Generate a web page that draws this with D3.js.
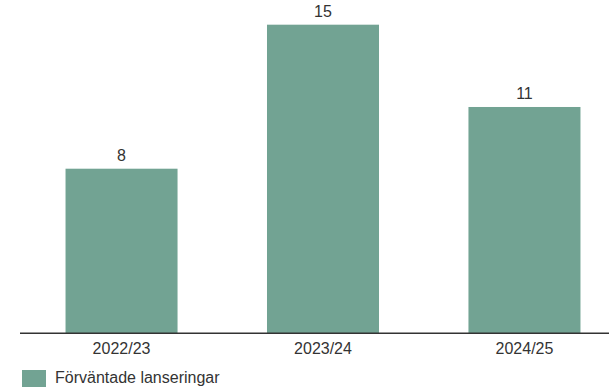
<!DOCTYPE html>
<html>
<head>
<meta charset="utf-8">
<script src="https://cdn.jsdelivr.net/npm/d3@7"></script>
<style>
  html, body { margin: 0; padding: 0; background: #fff; }
  svg { display: block; }
  text { font-family: "Liberation Sans", Arial, sans-serif; fill: #333; }
</style>
</head>
<body>
<svg id="chart" width="609" height="387"></svg>
<script>
const categories = ["2022/23", "2023/24", "2024/25"];
const values = [8, 15, 11];
const seriesName = "Förväntade lanseringar";
const barColor = "#72a393";

const W = 609, H = 387;
const svg = d3.select("#chart");

const baseY = 333.3;
const x = d3.scaleBand()
  .domain(categories)
  .range([20, 626])
  .paddingInner(0.444)
  .paddingOuter(0.226);

const y = d3.scaleLinear()
  .domain([0, 16.2])
  .range([baseY, 0]);

const data = categories.map((c, i) => ({ c, v: values[i] }));

svg.selectAll("rect.bar")
  .data(data)
  .enter().append("rect")
  .attr("class", "bar")
  .attr("x", d => x(d.c))
  .attr("width", x.bandwidth())
  .attr("y", d => y(d.v))
  .attr("height", d => baseY - y(d.v))
  .attr("fill", barColor);

svg.selectAll("text.val")
  .data(data)
  .enter().append("text")
  .attr("class", "val")
  .attr("x", d => x(d.c) + x.bandwidth() / 2)
  .attr("y", d => y(d.v) - 7.5)
  .attr("text-anchor", "middle")
  .style("font-size", "16px")
  .text(d => d.v);

// axis
const axis = d3.axisBottom(x).tickSize(0).tickPadding(0);
const g = svg.append("g").attr("transform", `translate(0,${baseY})`).call(axis);
g.select(".domain").remove();
g.selectAll("text")
  .attr("y", 21)
  .attr("dy", null)
  .style("font-size", "16px")
  .style("font-family", "'Liberation Sans', Arial, sans-serif")
  .attr("fill", "#333");

svg.append("line")
  .attr("x1", 20).attr("x2", 609)
  .attr("y1", baseY).attr("y2", baseY)
  .attr("stroke", "#333")
  .attr("stroke-width", 1.5);

// legend
const lg = svg.append("g").attr("transform", "translate(22,370)");
lg.append("rect").attr("width", 24).attr("height", 24).attr("fill", barColor);
lg.append("text").attr("x", 33).attr("y", 12.8)
  .style("font-size", "16px")
  .text(seriesName);
</script>
</body>
</html>
